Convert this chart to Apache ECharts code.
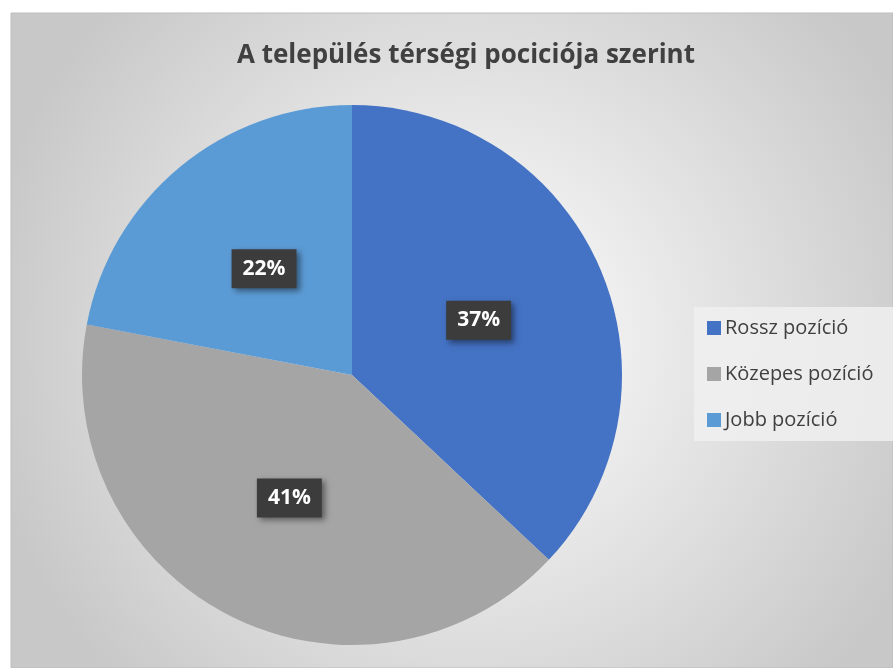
<!DOCTYPE html>
<html><head><meta charset="utf-8">
<script src="https://cdn.jsdelivr.net/npm/echarts@6/dist/echarts.min.js"></script>
<style>html,body{margin:0;padding:0;background:#fff}#c{width:893px;height:668px}</style>
</head><body><div id="c"></div>
<script>
const categories = ['Rossz pozíció', 'Közepes pozíció', 'Jobb pozíció'];
const values = [37, 41, 22];
const colors = ['#4472C4', '#A5A5A5', '#5B9BD5'];
const titleText = 'A település térségi pociciója szerint';

const chart = echarts.init(document.getElementById('c'));
chart.setOption({
  animation: false,
  graphic: [{
    type: 'rect', z: -10, silent: true,
    shape: { x: 11, y: 13, width: 882, height: 655 },
    style: {
      fill: new echarts.graphic.RadialGradient(0.52, 0.5, 0.75, [
        { offset: 0, color: '#ffffff' },
        { offset: 1, color: '#c8c8c8' }
      ]),
      stroke: '#bdbdbd', lineWidth: 1
    }
  }],
  title: {
    text: titleText, left: 461, top: 38, textAlign: 'center',
    textStyle: { fontFamily: 'Open Sans', fontWeight: 'bold', fontSize: 26, color: '#404040' }
  },
  legend: {
    orient: 'vertical', left: 694, top: 307,
    data: categories,
    itemWidth: 14, itemHeight: 14, itemGap: 26,
    padding: [11, 40, 11, 13],
    backgroundColor: 'rgba(240,240,240,0.85)',
    icon: 'rect',
    textStyle: { fontFamily: 'Open Sans', fontSize: 20, color: '#404040', padding: [0, 0, 0, -1] }
  },
  series: [{
    type: 'pie', center: [352, 375], radius: 270, startAngle: 90, clockwise: true,
    data: categories.map((n, i) => ({ name: n, value: values[i], itemStyle: { color: colors[i] } })),
    label: {
      show: true, position: 'inside',
      formatter: p => p.value + '%',
      fontFamily: 'Open Sans', fontWeight: 'bold', fontSize: 21, color: '#fff',
      backgroundColor: '#3c3c3c', padding: [10, 11, 8, 11],
      shadowColor: 'rgba(0,0,0,0.45)', shadowBlur: 6, shadowOffsetX: 3, shadowOffsetY: 3
    },
    labelLine: { show: false },
    emphasis: { disabled: true }
  }]
});
</script></body></html>
